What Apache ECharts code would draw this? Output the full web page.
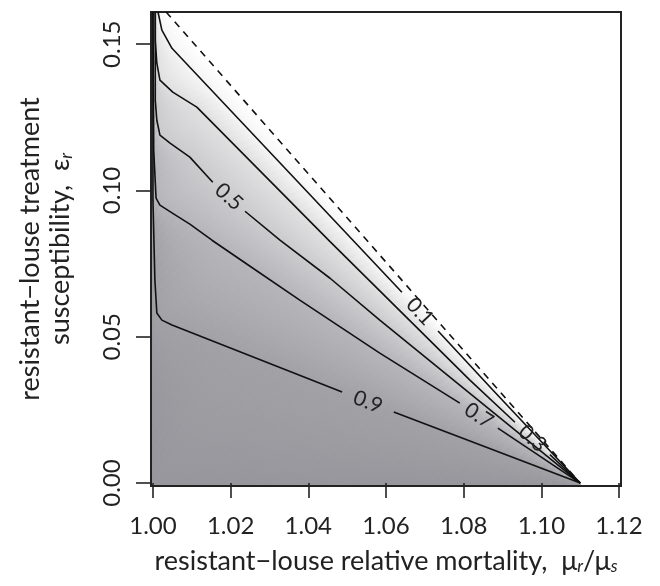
<!DOCTYPE html>
<html><head><meta charset="utf-8">
<script src="https://cdn.jsdelivr.net/npm/echarts@6/dist/echarts.min.js"></script>
<style>html,body{margin:0;padding:0;background:#fff}#c{width:660px;height:586px}</style>
</head><body><div id="c"></div>
<script>
// ---- data ----
const xTicks = [1.00, 1.02, 1.04, 1.06, 1.08, 1.10, 1.12];
const yTicks = [0.00, 0.05, 0.10, 0.15];
const xRange = [0.9995, 1.1205];
const yRange = [-0.001, 0.161];
const levels = [0.1, 0.3, 0.5, 0.7, 0.9];
const levelLabels = ['0.1', '0.3', '0.5', '0.7', '0.9'];
const apex = [1.11, 0];
const dashedLine = [[1.0034, 0.161], [1.11, 0]];
// each contour: part before its label (a) and after its label (b)
const c01a = [[1.0013,0.161],[1.0023,0.1548],[1.0049,0.1486],[1.0095,0.1421],[1.0641,0.0652]];
const c01b = [[1.0734,0.0520],[1.0875,0.0318],[1.11,0]];
const c03a = [[1.0006,0.161],[1.0006,0.1514],[1.0010,0.1435],[1.0018,0.1377],[1.0051,0.1336],[1.0113,0.1285],[1.0456,0.0825],[1.0816,0.0352],[1.0932,0.0208]];
const c03b = [[1.1022,0.0097],[1.11,0]];
const c05a = [[1.0006,0.161],[1.0006,0.1309],[1.0010,0.1240],[1.0018,0.1189],[1.0044,0.1162],[1.0095,0.1114],[1.0154,0.1028]];
const c05b = [[1.0237,0.0929],[1.0327,0.0830],[1.0456,0.0700],[1.0584,0.0557],[1.11,0]];
const c07a = [[1.0000,0.161],[1.0002,0.1138],[1.0008,0.0974],[1.0018,0.0950],[1.0051,0.0922],[1.0095,0.0885],[1.0152,0.0830],[1.0250,0.0741],[1.0378,0.0625],[1.0584,0.0444],[1.0790,0.0273]];
const c07b = [[1.0888,0.0188],[1.11,0]];
const c09a = [[1.0000,0.161],[1.0000,0.0967],[1.0005,0.0694],[1.0010,0.0581],[1.0023,0.0557],[1.0049,0.0540],[1.0147,0.0489],[1.0487,0.0311]];
const c09b = [[1.0620,0.0243],[1.11,0]];
const fillLevelTop = 0.0;   // value along the dashed line
const fillLevelEdge = 1.0;  // value along the lower-left edges

// ---- build ----
const contours = [[c01a,c01b],[c03a,c03b],[c05a,c05b],[c07a,c07b],[c09a,c09b]];
const edgePath = [[xRange[0], yRange[1]], [xRange[0], yRange[0]], [apex[0], yRange[0]]];
const bounds = [dashedLine].concat(contours.map(c => c[0].concat(c[1]))).concat([edgePath]);
const boundVals = [fillLevelTop].concat(levels).concat([fillLevelEdge]);
function shade(v){
  const r = Math.round(255 - 105*v), b = Math.round(255 - 99*v);
  return 'rgb(' + r + ',' + r + ',' + b + ')';
}
function resample(pts, n){
  const cum=[0];
  for(let i=1;i<pts.length;i++){cum.push(cum[i-1]+Math.hypot(pts[i][0]-pts[i-1][0],pts[i][1]-pts[i-1][1]));}
  const L=cum[cum.length-1]; const out=[]; let j=0;
  for(let k=0;k<=n;k++){
    const t=L*k/n;
    while(j<pts.length-2 && cum[j+1]<t) j++;
    const seg=cum[j+1]-cum[j]; const f=seg>0?(t-cum[j])/seg:0;
    out.push([pts[j][0]+(pts[j+1][0]-pts[j][0])*f, pts[j][1]+(pts[j+1][1]-pts[j][1])*f]);
  }
  return out;
}
function bandItem(params, api){
  const i = params.dataIndex;
  const A = bounds[i].map(p=>api.coord(p)), B = bounds[i+1].map(p=>api.coord(p));
  const cA = shade(boundVals[i]), cB = shade(boundVals[i+1]);
  const n = 90; const ra = resample(A,n), rb = resample(B,n);
  const children=[];
  for(let k=0;k<n;k++){
    const pa=[(ra[k][0]+ra[k+1][0])/2,(ra[k][1]+ra[k+1][1])/2];
    const pb=[(rb[k][0]+rb[k+1][0])/2,(rb[k][1]+rb[k+1][1])/2];
    let fill;
    if(Math.hypot(pa[0]-pb[0],pa[1]-pb[1])<0.5){ fill = shade((boundVals[i]+boundVals[i+1])/2); }
    else fill = new echarts.graphic.LinearGradient(pa[0],pa[1],pb[0],pb[1],[{offset:0,color:cA},{offset:1,color:cB}],true);
    children.push({type:'polygon',shape:{points:[ra[k],ra[k+1],rb[k+1],rb[k]]},style:{fill:fill,stroke:fill,lineWidth:1}});
  }
  return {type:'group',children:children};
}
function labelItem(params, api){
  const i = params.dataIndex; const a = contours[i][0], b = contours[i][1];
  const p1 = api.coord(a[a.length-1]), p2 = api.coord(b[0]);
  const ang = Math.atan2(p2[1]-p1[1], p2[0]-p1[0]);
  return {type:'text', x:(p1[0]+p2[0])/2, y:(p1[1]+p2[1])/2, rotation:-ang,
    style:{text:levelLabels[i], fill:'#222', font:'21px Lato', fontSize:21, fontFamily:'Lato',
      align:'center', verticalAlign:'middle', textAlign:'center', textVerticalAlign:'middle'}};
}
const series = [];
series.push({type:'custom', z:-1, clip:true, silent:true, renderItem:bandItem,
  data: bounds.slice(0,-1).map((b,i)=>[1.05,0.05,i])});
const lineStyle = {color:'#111', width:1.6};
contours.forEach(c=>{
  c.forEach(part=>series.push({type:'line', data:part, showSymbol:false, symbol:'none', lineStyle:lineStyle, z:3, silent:true, animation:false}));
});
series.push({type:'line', data:dashedLine, showSymbol:false, symbol:'none', lineStyle:{color:'#111', width:1.6, type:[7,6]}, z:3, silent:true});
series.push({type:'custom', z:4, silent:true, renderItem:labelItem, data: levels.map((v,i)=>[1.05,0.05,i])});

const txt = '#222';
const chart = echarts.init(document.getElementById('c'), null, {renderer:'canvas'});
chart.setOption({
  animation:false,
  backgroundColor:'#fff',
  grid:{left:151, right:39, top:12, bottom:100, show:true, borderColor:'#222', borderWidth:2, backgroundColor:'transparent', z:0},
  xAxis:{type:'value', min:xRange[0], max:xRange[1], splitLine:{show:false}, axisLine:{show:false},
    axisTick:{show:true, customValues:xTicks, length:15, lineStyle:{color:txt, width:1.6}},
    axisLabel:{customValues:xTicks, formatter:v=>v.toFixed(2), fontSize:24, fontFamily:'Lato', color:txt, margin:28},
    name:'resistant\u2212louse relative mortality,  \u03bc{s|r}/\u03bc{s|s}', nameLocation:'middle', nameGap:62,
    nameTextStyle:{fontSize:27, fontFamily:'Lato', color:txt, rich:{s:{fontSize:17, fontFamily:'Lato', fontStyle:'italic', color:txt, verticalAlign:'bottom', lineHeight:19}}}},
  yAxis:{type:'value', min:yRange[0], max:yRange[1], splitLine:{show:false}, axisLine:{show:false},
    axisTick:{show:true, customValues:yTicks, length:15, lineStyle:{color:txt, width:1.6}},
    axisLabel:{customValues:yTicks, formatter:v=>v.toFixed(2), rotate:90, fontSize:24, fontFamily:'Lato', color:txt, margin:27},
    name:'resistant\u2212louse treatment\nsusceptibility,  \u03b5{s|r}', nameLocation:'middle', nameGap:76,
    nameTextStyle:{fontSize:27, fontFamily:'Lato', color:txt, lineHeight:30, rich:{s:{fontSize:17, fontFamily:'Lato', fontStyle:'italic', color:txt, verticalAlign:'bottom', lineHeight:19}}}},
  series:series
});
</script></body></html>
